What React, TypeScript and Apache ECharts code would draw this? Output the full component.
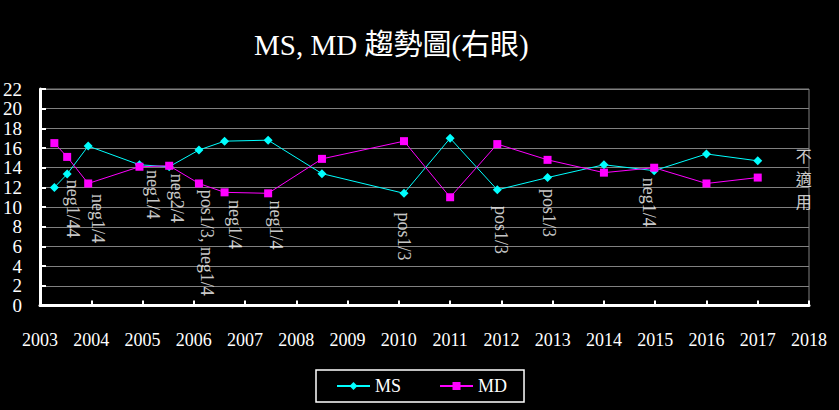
import React, { useEffect, useRef } from "react";
import * as echarts from "echarts";

const titleText = "MS, MD 趨勢圖(右眼)";
const visitYears = [2003.28, 2003.53, 2003.94, 2004.94, 2005.52, 2006.1, 2006.6, 2007.45, 2008.5, 2010.1, 2011.0, 2011.92, 2012.9, 2014.0, 2014.98, 2016.0, 2017.0];
const msValues = [12.0, 13.35, 16.2, 14.3, 14.1, 15.8, 16.7, 16.8, 13.4, 11.4, 17.0, 11.75, 13.0, 14.3, 13.7, 15.4, 14.7];
const mdValues = [16.5, 15.1, 12.4, 14.1, 14.2, 12.4, 11.5, 11.4, 14.9, 16.7, 11.0, 16.4, 14.8, 13.5, 14.0, 12.4, 13.0];
const noteTexts = ["neg1/44", "neg1/4", "neg1/4", "neg2/4", "pos1/3, neg1/4", "neg1/4", "neg1/4", "pos1/3", "pos1/3", "pos1/3", "neg1/4"];
const noteYears = [2003.64, 2004.14, 2005.2, 2005.67, 2006.26, 2006.8, 2007.6, 2010.1, 2012.0, 2012.93, 2014.88];
const noteTops = [12.77, 11.34, 13.78, 13.38, 11.75, 10.73, 10.66, 9.44, 10.12, 11.85, 12.97];
const naText = "不\n適\n用";
const naPos = [2017.9, 16.5];
const xMin = 2003;
const xMax = 2018;
const yMin = 0;
const yMax = 22;
const yStep = 2;

const serif = "'Liberation Serif', 'Times New Roman', 'Noto Sans CJK TC', serif";
const narrow = "'Liberation Sans Narrow', 'Liberation Serif', serif";

export default function App() {
  const ref = useRef<HTMLDivElement>(null);
  useEffect(() => {
    if (!ref.current) return;
    const chart = echarts.init(ref.current, null, { renderer: "svg" });
    const ms = visitYears.map((x, i) => [x, msValues[i]]);
    const md = visitYears.map((x, i) => [x, mdValues[i]]);
    const notes = noteYears.map((x, i) => [x, noteTops[i], noteTexts[i]]);
    chart.setOption({
      animation: false,
      backgroundColor: "#000000",
      title: {
        text: titleText,
        left: 249,
        top: 25,
        textStyle: { color: "#ffffff", fontSize: 29, fontWeight: "normal", fontFamily: serif },
      },
      legend: {
        data: ["MS", "MD"],
        left: 316,
        top: 370,
        padding: [7, 17, 7, 20],
        itemWidth: 33,
        itemHeight: 10,
        itemGap: 38,
        borderColor: "#ffffff",
        borderWidth: 1.5,
        textStyle: { color: "#ffffff", fontSize: 18, fontFamily: serif },
      },
      grid: {
        left: 40,
        right: 30,
        top: 89,
        bottom: 104.5,
        show: true,
        borderColor: "#808080",
        borderWidth: 1,
      },
      xAxis: {
        type: "value",
        min: xMin,
        max: xMax,
        interval: 1,
        axisLine: { show: true, lineStyle: { color: "#ffffff", width: 3 } },
        axisTick: { show: true, inside: true, length: 5, lineStyle: { color: "#ffffff", width: 2 } },
        splitLine: { show: false },
        axisLabel: {
          color: "#ffffff",
          fontSize: 18,
          fontFamily: narrow,
          margin: 25,
          showMinLabel: true,
          showMaxLabel: true,
          formatter: (v: number) => String(v),
        },
      },
      yAxis: {
        type: "value",
        min: yMin,
        max: yMax,
        interval: yStep,
        axisLine: { show: true, lineStyle: { color: "#ffffff", width: 3 } },
        axisTick: { show: true, inside: true, length: 6, lineStyle: { color: "#ffffff", width: 2 } },
        splitLine: { show: true, lineStyle: { color: "#808080", width: 1 } },
        axisLabel: {
          color: "#ffffff",
          fontSize: 19,
          lineHeight: 18,
          fontFamily: narrow,
          margin: 18,
          showMinLabel: true,
          showMaxLabel: true,
          hideOverlap: false,
        },
      },
      series: [
        {
          name: "MS",
          type: "line",
          data: ms,
          symbol: "diamond",
          symbolSize: 9,
          lineStyle: { color: "#00ffff", width: 1 },
          itemStyle: { color: "#00ffff" },
        },
        {
          name: "MD",
          type: "line",
          data: md,
          symbol: "rect",
          symbolSize: 8,
          lineStyle: { color: "#ff00ff", width: 1 },
          itemStyle: { color: "#ff00ff" },
        },
        {
          name: "notes",
          type: "scatter",
          data: notes,
          symbolSize: 1,
          silent: true,
          itemStyle: { color: "rgba(0,0,0,0)" },
          label: {
            show: true,
            position: [0.5, 0.5],
            rotate: -90,
            align: "left",
            verticalAlign: "middle",
            color: "#ffffff",
            fontSize: 18,
            fontFamily: narrow,
            formatter: (p: any) => p.value[2],
          },
          z: 5,
        },
        {
          name: "na",
          type: "scatter",
          data: [naPos],
          symbolSize: 1,
          silent: true,
          itemStyle: { color: "rgba(0,0,0,0)" },
          label: {
            show: true,
            position: [0.5, 0.5],
            align: "center",
            verticalAlign: "top",
            lineHeight: 23,
            color: "#ffffff",
            fontSize: 16,
            fontFamily: "'Noto Sans CJK TC', sans-serif",
            formatter: () => naText,
          },
        },
      ],
    });
    return () => chart.dispose();
  }, []);
  return (
    <div
      ref={ref}
      style={{ position: "fixed", left: 0, top: 0, width: 839, height: 410, background: "#000" }}
    />
  );
}
